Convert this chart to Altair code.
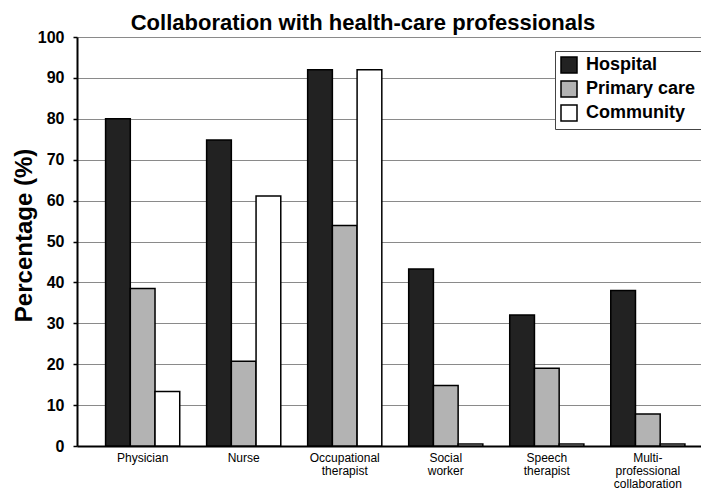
import altair as alt
import pandas as pd

categories = ["Physician", "Nurse", "Occupational|therapist", "Social|worker",
              "Speech|therapist", "Multi-|professional|collaboration"]
series = ["Hospital", "Primary care", "Community"]
hospital = [80.0, 74.8, 92.0, 43.3, 32.0, 38.0]
primary_care = [38.5, 20.7, 53.9, 14.8, 19.0, 7.8]
community = [13.3, 61.1, 92.0, 0.5, 0.5, 0.5]
colors = ["#222222", "#b3b3b3", "#ffffff"]
y_ticks = [0, 10, 20, 30, 40, 50, 60, 70, 80, 90, 100]

rows = []
for s, vals in zip(series, [hospital, primary_care, community]):
    for c, v in zip(categories, vals):
        rows.append({"category": c, "series": s, "value": v})
df = pd.DataFrame(rows)

FONT = "Liberation Sans"
PLOT_W = 624
PLOT_H = 409

chart = alt.Chart(df).mark_bar(stroke="black", strokeWidth=1.5).encode(
    x=alt.X("category:N", sort=categories,
            scale=alt.Scale(paddingInner=0.266, paddingOuter=0.221, align=0.64),
            axis=alt.Axis(title=None, labelAngle=0, ticks=False,
                          labelExpr="split(datum.label, '|')",
                          labelFont=FONT, labelFontSize=12, labelColor="black",
                          labelLineHeight=13, labelPadding=6,
                          domainColor="black", domainWidth=2,
                          labelBaseline="top")),
    xOffset=alt.XOffset("series:N", sort=series,
                        scale=alt.Scale(paddingInner=0, paddingOuter=0)),
    y=alt.Y("value:Q", scale=alt.Scale(domain=[0, 100], nice=False),
            axis=alt.Axis(title="Percentage (%)", values=y_ticks,
                          titleFont=FONT, titleFontSize=24, titleFontWeight="bold",
                          titleColor="black", titleAngle=-90,
                          titleX=-46, titleY=PLOT_H * 0.484, titleBaseline="alphabetic",
                          titleAlign="center",
                          labelFont=FONT, labelFontSize=16, labelFontWeight="bold",
                          labelColor="black", labelPadding=9,
                          tickColor="black", tickWidth=1.5, tickSize=4,
                          domainColor="black", domainWidth=2,
                          grid=True, gridColor="#8a8a8a", gridWidth=1)),
    color=alt.Color("series:N", sort=series,
                    scale=alt.Scale(domain=series, range=colors),
                    legend=alt.Legend(title=None, orient="none",
                                      legendX=PLOT_W - 146, legendY=14,
                                      symbolType="square", symbolSize=256,
                                      symbolStrokeColor="black", symbolStrokeWidth=1.5,
                                      labelFont=FONT, labelFontSize=18,
                                      labelFontWeight="bold", labelColor="black",
                                      labelOffset=8, rowPadding=2, padding=5,
                                      strokeColor="#444444", fillColor="white")),
).properties(
    width=PLOT_W,
    height=PLOT_H,
    title=alt.TitleParams("Collaboration with health-care professionals",
                          font=FONT, fontSize=22, fontWeight="bold", color="black",
                          anchor="middle", dx=-26, offset=0, dy=6),
    autosize="none",
    padding={"left": 69, "top": 29, "right": 0, "bottom": 44},
).configure_view(stroke=None)

chart.save("out.html", embed_options={"renderer": "svg", "actions": False})
